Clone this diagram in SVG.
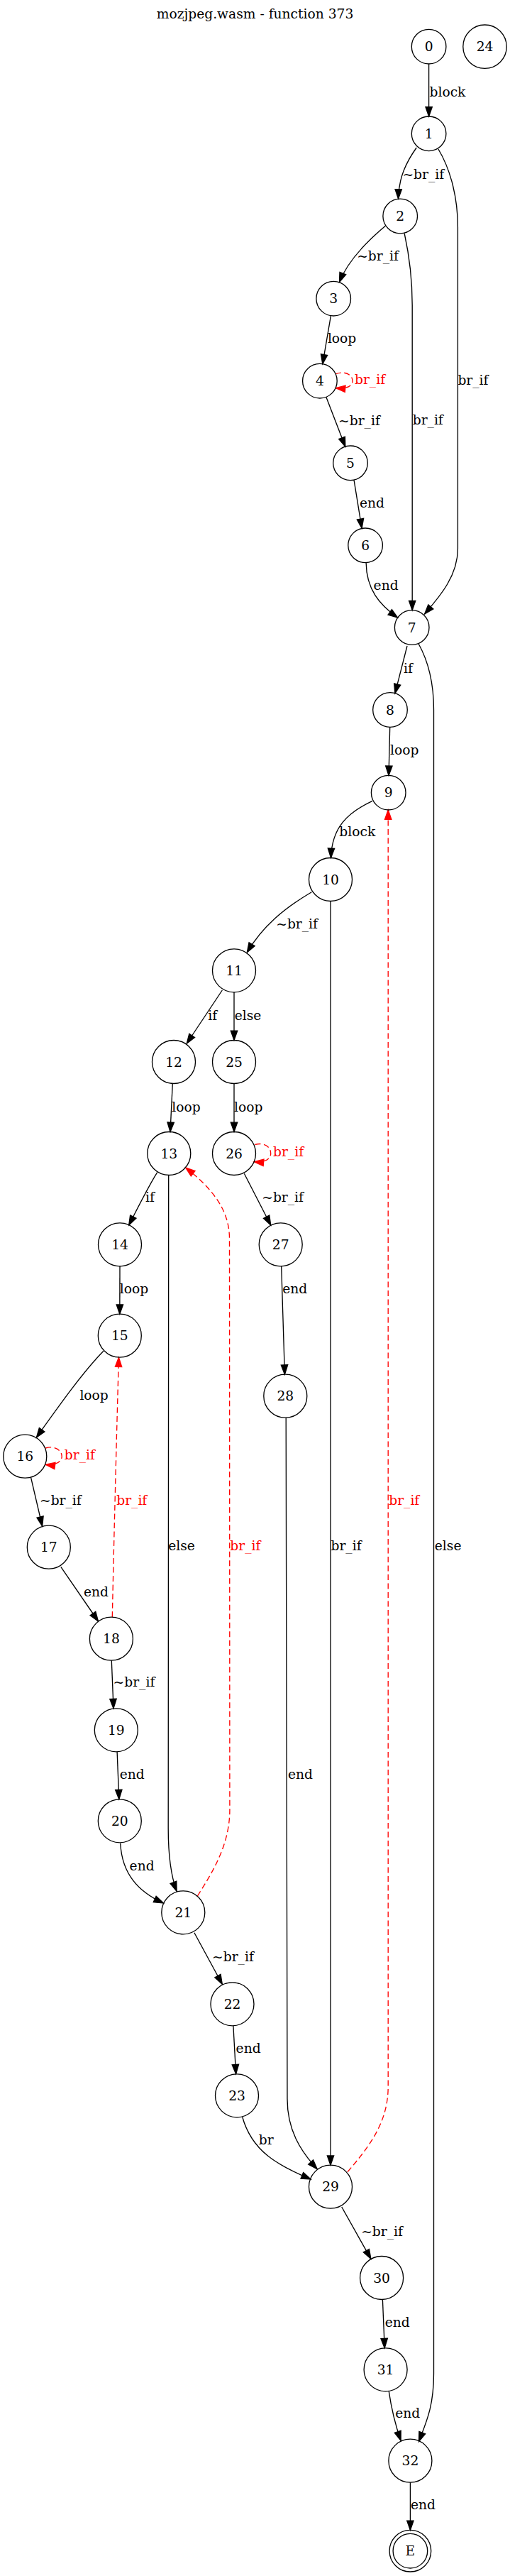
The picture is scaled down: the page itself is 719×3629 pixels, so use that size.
<svg xmlns="http://www.w3.org/2000/svg" width="719" height="3629" viewBox="0 0 719 3629">
<style>
text{font-family:"DejaVu Serif","Liberation Serif",serif;font-size:18.67px;fill:#000}
.n ellipse{fill:none;stroke:#000;stroke-width:1.33}
.n text{text-anchor:middle}
.e path{fill:none;stroke:#000;stroke-width:1.33}
.e path.r{stroke:#f00;stroke-dasharray:8,4.5}
.e text.r{fill:#f00}
</style>
<defs>
<marker id="a" markerUnits="userSpaceOnUse" markerWidth="14" markerHeight="10" refX="13.3" refY="4.67" orient="auto" overflow="visible"><path d="M0,0L13.3,4.67L0,9.33z" fill="#000" stroke="#000" stroke-width="1.33"/></marker>
<marker id="ar" markerUnits="userSpaceOnUse" markerWidth="14" markerHeight="10" refX="13.3" refY="4.67" orient="auto" overflow="visible"><path d="M0,0L13.3,4.67L0,9.33z" fill="#f00" stroke="#f00" stroke-width="1.33" stroke-dasharray="none"/></marker>
</defs>
<rect width="719" height="3629" fill="#fff"/>
<text x="359.5" y="25.7" text-anchor="middle">mozjpeg.wasm - function 373</text>
<g class="e" id="edges">
<path d="M604.6,90L604.6,164" marker-end="url(#a)"/><text x="605.5" y="136">block</text>
<path d="M587.2,208C573,228 562,250 561.5,280" marker-end="url(#a)"/><text x="567.4" y="251.7">~br_if</text>
<path d="M617.9,210C636,240 645.4,280 645.4,320L645.4,773C645.4,810 622,838 598.6,865" marker-end="url(#a)"/><text x="645.4" y="541.7">br_if</text>
<path d="M543.6,318C515,342 490,368 478.5,397.5" marker-end="url(#a)"/><text x="503.2" y="366.7">~br_if</text>
<path d="M570.2,329C577,360 581.2,390 581.2,430L581.2,859.7" marker-end="url(#a)"/><text x="581.7" y="598.3">br_if</text>
<path d="M466.5,444.3L454.8,512.7" marker-end="url(#a)"/><text x="461.9" y="483.3">loop</text>
<path class="r" d="M473,527C485,522 497,527 497,536.7C497,544 489,548 473.4,546.7" marker-end="url(#ar)"/><text class="r" x="500" y="540.7">br_if</text>
<path d="M460.1,560L486.8,629.2" marker-end="url(#a)"/><text x="477.1" y="599">~br_if</text>
<path d="M499.1,676.7L510.1,744.3" marker-end="url(#a)"/><text x="506.9" y="715">end</text>
<path d="M516.1,792.7C516.5,830 535,852 560.6,870" marker-end="url(#a)"/><text x="526.6" y="831">end</text>
<path d="M574,910L556.9,976.8" marker-end="url(#a)"/><text x="569" y="947.7">if</text>
<path d="M590,906.7C603,930 611.5,960 611.5,1000L611.5,3344C611.5,3390 601,3412 590.5,3439.5" marker-end="url(#a)"/><text x="612.8" y="2184">else</text>
<path d="M549.7,1024.3L548,1092.4" marker-end="url(#a)"/><text x="550" y="1063.3">loop</text>
<path d="M525,1128.3C490,1145 468,1165 466.5,1208.5" marker-end="url(#a)"/><text x="478.3" y="1178.3">block</text>
<path class="r" d="M489.9,3059.7C520,3025 547.2,2990 547.2,2940L547.2,1141" marker-end="url(#ar)"/><text class="r" x="548.2" y="2120">br_if</text>
<path d="M439.3,1256.7C400,1280 370,1305 348.3,1341.7" marker-end="url(#a)"/><text x="389.3" y="1308.3">~br_if</text>
<path d="M466,1269.5L466,3050.2" marker-end="url(#a)"/><text x="466.5" y="2184">br_if</text>
<path d="M313.3,1395L263.3,1470" marker-end="url(#a)"/><text x="293.3" y="1436.7">if</text>
<path d="M330,1397.8L330,1465.5" marker-end="url(#a)"/><text x="330.7" y="1436.7">else</text>
<path d="M243.3,1526.5L240,1594.5" marker-end="url(#a)"/><text x="242.3" y="1565.7">loop</text>
<path d="M330,1526.5L330,1594.5" marker-end="url(#a)"/><text x="330" y="1565.7">loop</text>
<path class="r" d="M359.5,1612.5C372,1609 381.7,1615 381.7,1625C381.7,1633 373,1638 358.3,1636.7" marker-end="url(#ar)"/><text class="r" x="385" y="1629.3">br_if</text>
<path d="M221.7,1651.7C210,1670 195,1700 181.7,1726" marker-end="url(#a)"/><text x="205" y="1693.3">if</text>
<path d="M237.7,1655.5L237.2,2576C237.2,2610 240,2640 249.1,2664.3" marker-end="url(#a)"/><text x="237.2" y="2184">else</text>
<path class="r" d="M278.4,2671C298,2640 323.9,2600 323.9,2550L323.5,1745C323.5,1705 300,1675 261.7,1645" marker-end="url(#ar)"/><text class="r" x="324.3" y="2184">br_if</text>
<path d="M344.3,1653.3L381.7,1726" marker-end="url(#a)"/><text x="369.3" y="1693.3">~br_if</text>
<path d="M169,1783.8L168.8,1851.2" marker-end="url(#a)"/><text x="168.8" y="1822.3">loop</text>
<path d="M396.7,1783.8L401.4,1936.2" marker-end="url(#a)"/><text x="398.2" y="1822.3">end</text>
<path d="M403.2,1997.2L405,2957C405,3000 423,3030 447.2,3055.7" marker-end="url(#a)"/><text x="406" y="2506.3">end</text>
<path d="M145.9,1903.3C115,1935 80,1985 51.4,2025" marker-end="url(#a)"/><text x="112.4" y="1971.7">loop</text>
<path class="r" d="M158.3,2278C161,2150 165,2000 167.4,1912.2" marker-end="url(#ar)"/><text class="r" x="164.2" y="2120">br_if</text>
<path class="r" d="M64.2,2040C77,2036 87.2,2043 87.2,2051.7C87.2,2060 77,2065 64.2,2063.3" marker-end="url(#ar)"/><text class="r" x="90.8" y="2056">br_if</text>
<path d="M43.6,2081.7L59.6,2150" marker-end="url(#a)"/><text x="56" y="2120">~br_if</text>
<path d="M85.8,2207.3L138.5,2284" marker-end="url(#a)"/><text x="117.9" y="2249">end</text>
<path d="M157.3,2339.2L160,2406.8" marker-end="url(#a)"/><text x="159.6" y="2376.3">~br_if</text>
<path d="M165.1,2467.8L167.8,2534.8" marker-end="url(#a)"/><text x="168.8" y="2505.7">end</text>
<path d="M169.7,2596.7C172,2640 195,2665 230.3,2681" marker-end="url(#a)"/><text x="182.6" y="2635.3">end</text>
<path d="M273.9,2722.7L313.3,2795.3" marker-end="url(#a)"/><text x="299.1" y="2763.3">~br_if</text>
<path d="M328.9,2853.8L332.6,2921.8" marker-end="url(#a)"/><text x="332.6" y="2891.7">end</text>
<path d="M341.7,2982.3C355,3030 390,3050 438.1,3070" marker-end="url(#a)"/><text x="364.7" y="3021.3">br</text>
<path d="M481.7,3109L522.9,3182.3" marker-end="url(#a)"/><text x="509.2" y="3149.7">~br_if</text>
<path d="M539.4,3239.5L542.2,3307.8" marker-end="url(#a)"/><text x="542.7" y="3277.7">end</text>
<path d="M548.2,3368.3C552,3395 557,3415 565.1,3438.3" marker-end="url(#a)"/><text x="557.3" y="3406">end</text>
<path d="M578.4,3497.2L578.4,3564.4" marker-end="url(#a)"/><text x="578.9" y="3535">end</text>
</g>
<g class="n" id="n0"><ellipse cx="604.6" cy="65.7" rx="24.3" ry="24.3"/><text x="604.6" y="72.2">0</text></g>
<g class="n" id="n24"><ellipse cx="683.5" cy="65.7" rx="30.7" ry="30.7"/><text x="683.5" y="72.2">24</text></g>
<g class="n" id="n1"><ellipse cx="604.6" cy="188.3" rx="24.3" ry="24.3"/><text x="604.6" y="194.8">1</text></g>
<g class="n" id="n2"><ellipse cx="564.2" cy="304.5" rx="24.3" ry="24.3"/><text x="564.2" y="311">2</text></g>
<g class="n" id="n3"><ellipse cx="470.2" cy="420.7" rx="24.3" ry="24.3"/><text x="470.2" y="427.2">3</text></g>
<g class="n" id="n4"><ellipse cx="450.9" cy="536.7" rx="24.3" ry="24.3"/><text x="450.9" y="543.2">4</text></g>
<g class="n" id="n5"><ellipse cx="494" cy="652.3" rx="24.3" ry="24.3"/><text x="494" y="658.8">5</text></g>
<g class="n" id="n6"><ellipse cx="515.1" cy="768.3" rx="24.3" ry="24.3"/><text x="515.1" y="774.8">6</text></g>
<g class="n" id="n7"><ellipse cx="580.7" cy="884" rx="24.3" ry="24.3"/><text x="580.7" y="890.5">7</text></g>
<g class="n" id="n8"><ellipse cx="550" cy="1000" rx="24.3" ry="24.3"/><text x="550" y="1006.5">8</text></g>
<g class="n" id="n9"><ellipse cx="547.7" cy="1116.7" rx="24.3" ry="24.3"/><text x="547.7" y="1123.2">9</text></g>
<g class="n" id="n10"><ellipse cx="466" cy="1239" rx="30.5" ry="30.5"/><text x="466" y="1245.5">10</text></g>
<g class="n" id="n11"><ellipse cx="330" cy="1367.3" rx="30.5" ry="30.5"/><text x="330" y="1373.8">11</text></g>
<g class="n" id="n12"><ellipse cx="245" cy="1496" rx="30.5" ry="30.5"/><text x="245" y="1502.5">12</text></g>
<g class="n" id="n25"><ellipse cx="330" cy="1496" rx="30.5" ry="30.5"/><text x="330" y="1502.5">25</text></g>
<g class="n" id="n13"><ellipse cx="238.3" cy="1625" rx="30.5" ry="30.5"/><text x="238.3" y="1631.5">13</text></g>
<g class="n" id="n26"><ellipse cx="330" cy="1625" rx="30.5" ry="30.5"/><text x="330" y="1631.5">26</text></g>
<g class="n" id="n14"><ellipse cx="169" cy="1753.3" rx="30.5" ry="30.5"/><text x="169" y="1759.8">14</text></g>
<g class="n" id="n27"><ellipse cx="395.7" cy="1753.3" rx="30.5" ry="30.5"/><text x="395.7" y="1759.8">27</text></g>
<g class="n" id="n15"><ellipse cx="168.8" cy="1881.7" rx="30.5" ry="30.5"/><text x="168.8" y="1888.2">15</text></g>
<g class="n" id="n28"><ellipse cx="402.3" cy="1966.7" rx="30.5" ry="30.5"/><text x="402.3" y="1973.2">28</text></g>
<g class="n" id="n16"><ellipse cx="35.3" cy="2051.7" rx="30.5" ry="30.5"/><text x="35.3" y="2058.2">16</text></g>
<g class="n" id="n17"><ellipse cx="68.8" cy="2179.7" rx="30.5" ry="30.5"/><text x="68.8" y="2186.2">17</text></g>
<g class="n" id="n18"><ellipse cx="156.9" cy="2308.7" rx="30.5" ry="30.5"/><text x="156.9" y="2315.2">18</text></g>
<g class="n" id="n19"><ellipse cx="163.8" cy="2437.3" rx="30.5" ry="30.5"/><text x="163.8" y="2443.8">19</text></g>
<g class="n" id="n20"><ellipse cx="168.8" cy="2565.3" rx="30.5" ry="30.5"/><text x="168.8" y="2571.8">20</text></g>
<g class="n" id="n21"><ellipse cx="258.3" cy="2694.3" rx="30.5" ry="30.5"/><text x="258.3" y="2700.8">21</text></g>
<g class="n" id="n22"><ellipse cx="327.5" cy="2823.3" rx="30.5" ry="30.5"/><text x="327.5" y="2829.8">22</text></g>
<g class="n" id="n23"><ellipse cx="334" cy="2952.3" rx="30.5" ry="30.5"/><text x="334" y="2958.8">23</text></g>
<g class="n" id="n29"><ellipse cx="466" cy="3080.7" rx="30.5" ry="30.5"/><text x="466" y="3087.2">29</text></g>
<g class="n" id="n30"><ellipse cx="538.1" cy="3209" rx="30.5" ry="30.5"/><text x="538.1" y="3215.5">30</text></g>
<g class="n" id="n31"><ellipse cx="543.6" cy="3338.3" rx="30.5" ry="30.5"/><text x="543.6" y="3344.8">31</text></g>
<g class="n" id="n32"><ellipse cx="578.4" cy="3466.7" rx="30.5" ry="30.5"/><text x="578.4" y="3473.2">32</text></g>
<g class="n" id="nE"><ellipse cx="578.4" cy="3593.7" rx="24.3" ry="24.3"/><ellipse cx="578.4" cy="3593.7" rx="29.3" ry="29.3"/><text x="578.4" y="3600.2">E</text></g>
</svg>
